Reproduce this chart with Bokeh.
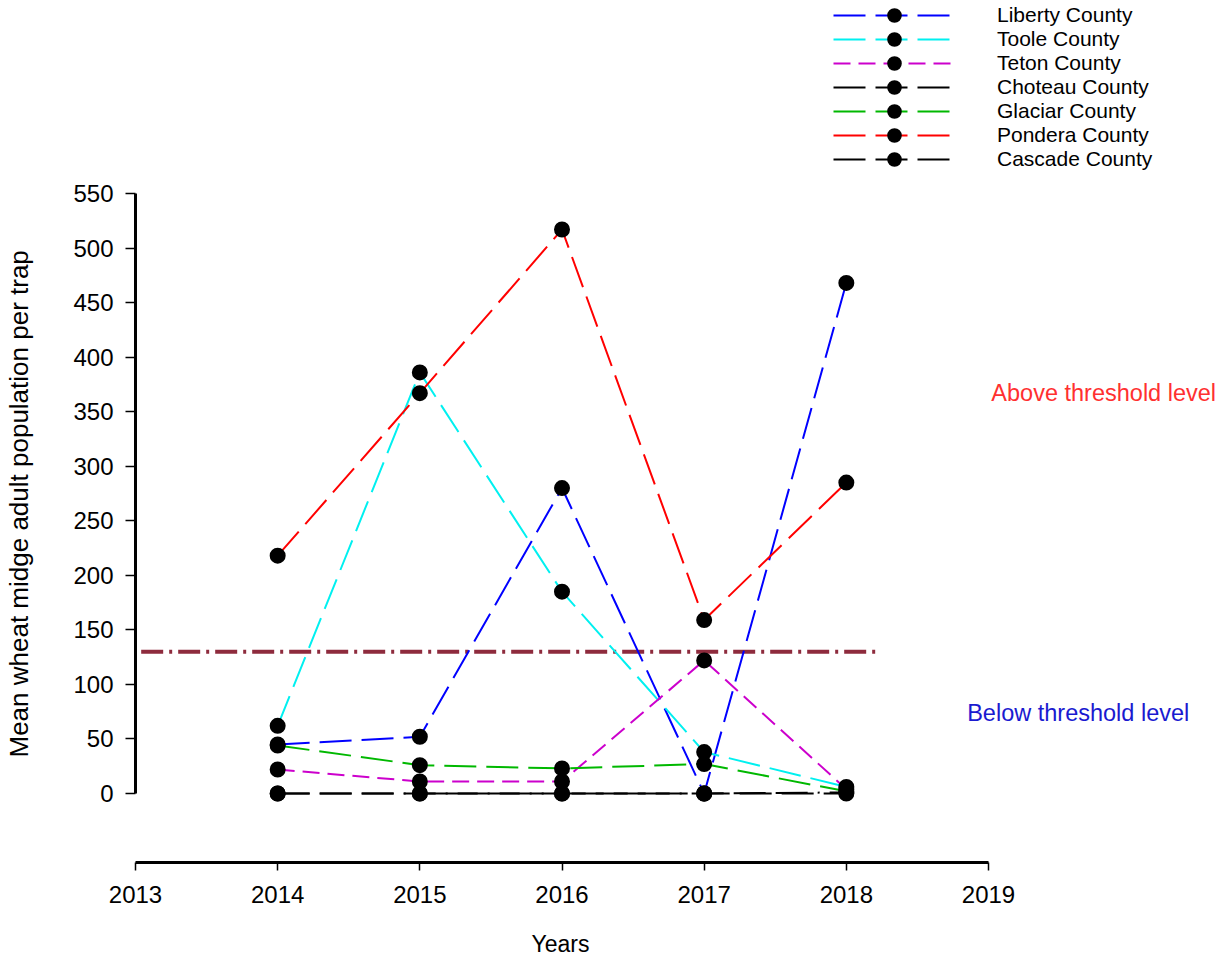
from bokeh.plotting import figure
from bokeh.models import Legend, LegendItem, FixedTicker, Label, Range1d, Title
from bokeh.embed import file_html
from bokeh.resources import INLINE

# ---- data ----
years = [2014, 2015, 2016, 2017, 2018]
liberty = [45, 52, 280, 0, 468]
toole = [62, 386, 185, 38, 6]
teton = [22, 11, 11, 122, 4]
choteau = [0, 0, 0, 0, 0]
glaciar = [44, 26, 23, 27, 2]
pondera = [218, 367, 517, 159, 285]
cascade = [0, 0, 0, 0, 1]
threshold_value = 130
threshold_x = [2013.04, 2018.23]
x_ticks = [2013, 2014, 2015, 2016, 2017, 2018, 2019]
y_ticks = [0, 50, 100, 150, 200, 250, 300, 350, 400, 450, 500, 550]

FONT = "Liberation Sans"

W, H = 1223, 957
LEFT, BOTTOM = 135, 95
PX_PER_YEAR = 853 / 6.0
PX_PER_UNIT = 600 / 550.0
frame_w = W - LEFT
frame_h = H - BOTTOM
x_end = 2013 + frame_w / PX_PER_YEAR
y_start = -63.25
y_end = y_start + frame_h / PX_PER_UNIT

p = figure(width=W, height=H,
           min_border_left=LEFT, min_border_right=0,
           min_border_top=0, min_border_bottom=BOTTOM,
           x_range=Range1d(2013, x_end), y_range=Range1d(y_start, y_end),
           output_backend="svg", toolbar_location=None,
           background_fill_color="white", border_fill_color="white")
p.outline_line_color = None
p.grid.visible = False

# axes
p.xaxis.ticker = FixedTicker(ticks=x_ticks)
p.yaxis.ticker = FixedTicker(ticks=y_ticks)
p.xaxis.bounds = (2013, 2019)
p.yaxis.bounds = (0, 550)
for ax in (p.xaxis[0], p.yaxis[0]):
    ax.axis_line_width = 3
    ax.axis_line_color = "black"
    ax.major_tick_line_width = 1.5
    ax.major_tick_in = 0
    ax.minor_tick_line_color = None
    ax.minor_tick_out = 0
    ax.major_label_text_font = FONT
    ax.major_label_text_font_size = "24px"
    ax.major_label_text_color = "black"
p.yaxis.major_tick_out = 10
p.xaxis.major_tick_out = 8
p.yaxis.major_label_standoff = 12
p.xaxis.major_label_standoff = 15

# blank spacer titles to place the axis titles like the original
def spacer(size):
    return Title(text=" ", text_font_size="1px", standoff=size)

p.add_layout(spacer(34), "left")
p.add_layout(Title(text="Mean wheat midge adult population per trap",
                   align="left", offset=105, standoff=0, vertical_align="bottom",
                   text_font=FONT, text_font_size="26px",
                   text_font_style="normal", text_color="black"), "left")
p.add_layout(spacer(20), "below")
p.add_layout(Title(text="Years", align="left", offset=396, standoff=0,
                   vertical_align="bottom",
                   text_font=FONT, text_font_size="23px",
                   text_font_style="normal", text_color="black"), "below")

# threshold line
p.line(threshold_x, [threshold_value, threshold_value], line_color="#8E2B3D",
       line_width=4, line_dash="22 6 3 6")

series = [
    ("Liberty County", liberty, "#0000FF", "32 10"),
    ("Toole County", toole, "#00F0F0", "32 10"),
    ("Teton County", teton, "#CC00CC", "17 8"),
    ("Choteau County", choteau, "black", "32 10"),
    ("Glaciar County", glaciar, "#00B800", "32 10"),
    ("Pondera County", pondera, "#FF0000", "32 10"),
    ("Cascade County", cascade, "black", "32 10 32 10 32 10 2 10"),
]

renders = []
for name, vals, col, dash in series:
    lr = p.line(years, vals, line_color=col, line_width=2, line_dash=dash)
    renders.append((name, lr))
markers = {}
for name, vals, col, dash in series:
    sr = p.scatter(years, vals, size=11, fill_color="black", line_color="black",
                   line_width=5)
    markers[name] = sr
items = [LegendItem(label=name, renderers=[lr, markers[name]]) for name, lr in renders]

legend = Legend(items=items, location=(698, frame_h - 171),
                glyph_width=122, glyph_height=24, spacing=0,
                label_standoff=42, label_height=24,
                label_text_font=FONT, label_text_font_size="21px",
                label_text_color="black",
                padding=0, margin=0,
                border_line_color=None, background_fill_alpha=0)
p.add_layout(legend, "center")

p.add_layout(Label(x=2019.02, y=367, text="Above threshold level",
                   text_color="#FF3030", text_font=FONT, text_font_size="23.5px",
                   text_baseline="middle"))
p.add_layout(Label(x=2018.85, y=74, text="Below threshold level",
                   text_color="#1A1AD0", text_font=FONT, text_font_size="23.5px",
                   text_baseline="middle"))

open("out.html", "w").write(file_html(p, INLINE))
